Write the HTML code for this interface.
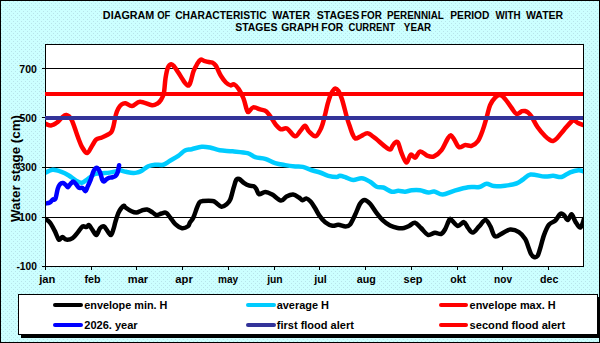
<!DOCTYPE html>
<html><head><meta charset="utf-8"><style>
html,body{margin:0;padding:0;width:600px;height:343px;overflow:hidden;background:#CCFFFF;}
svg{display:block;}
</style></head><body>
<svg width="600" height="343" viewBox="0 0 600 343">
<defs><pattern id="dots" x="0" y="0" width="4" height="4" patternUnits="userSpaceOnUse">
<rect width="4" height="4" fill="#CCFFFF"/><rect x="1" y="1" width="1" height="1" fill="#B8E4EA"/><rect x="3" y="3" width="1" height="1" fill="#B8E4EA"/></pattern></defs>
<rect x="0" y="0" width="600" height="343" fill="url(#dots)"/>
<rect x="0.5" y="0.5" width="599" height="342" fill="none" stroke="#000" stroke-width="1"/>
<g font-family="'Liberation Sans', sans-serif" font-weight="bold" fill="#000">
<text x="102.88" y="18.5" textLength="51.44" lengthAdjust="spacingAndGlyphs" font-size="10">DIAGRAM</text>
<text x="157.21" y="18.5" textLength="13.13" lengthAdjust="spacingAndGlyphs" font-size="10">OF</text>
<text x="175.18" y="18.5" textLength="91.50" lengthAdjust="spacingAndGlyphs" font-size="10">CHARACTERISTIC</text>
<text x="272.39" y="18.5" textLength="37.82" lengthAdjust="spacingAndGlyphs" font-size="10">WATER</text>
<text x="316.70" y="18.5" textLength="42.70" lengthAdjust="spacingAndGlyphs" font-size="10">STAGES</text>
<text x="360.94" y="18.5" textLength="20.86" lengthAdjust="spacingAndGlyphs" font-size="10">FOR</text>
<text x="386.94" y="18.5" textLength="56.96" lengthAdjust="spacingAndGlyphs" font-size="10">PERENNIAL</text>
<text x="450.32" y="18.5" textLength="39.11" lengthAdjust="spacingAndGlyphs" font-size="10">PERIOD</text>
<text x="495.59" y="18.5" textLength="25.07" lengthAdjust="spacingAndGlyphs" font-size="10">WITH</text>
<text x="525.99" y="18.5" textLength="37.22" lengthAdjust="spacingAndGlyphs" font-size="10">WATER</text>
<text x="235.31" y="30.5" textLength="42.09" lengthAdjust="spacingAndGlyphs" font-size="10">STAGES</text>
<text x="281.17" y="30.5" textLength="37.53" lengthAdjust="spacingAndGlyphs" font-size="10">GRAPH</text>
<text x="321.31" y="30.5" textLength="21.91" lengthAdjust="spacingAndGlyphs" font-size="10">FOR</text>
<text x="348.61" y="30.5" textLength="46.49" lengthAdjust="spacingAndGlyphs" font-size="10">CURRENT</text>
<text x="403.83" y="30.5" textLength="27.37" lengthAdjust="spacingAndGlyphs" font-size="10">YEAR</text>
</g>
<rect x="45.5" y="44.5" width="538" height="222" fill="#fff" stroke="#000" stroke-width="1"/>
<g stroke="#000" stroke-width="1" shape-rendering="crispEdges">
<line x1="45" y1="68.5" x2="583" y2="68.5"/>
<line x1="45" y1="117.5" x2="583" y2="117.5"/>
<line x1="45" y1="167.5" x2="583" y2="167.5"/>
<line x1="45" y1="217.5" x2="583" y2="217.5"/>
<line x1="42" y1="68.5" x2="45" y2="68.5"/>
<line x1="42" y1="117.5" x2="45" y2="117.5"/>
<line x1="42" y1="167.5" x2="45" y2="167.5"/>
<line x1="42" y1="217.5" x2="45" y2="217.5"/>
<line x1="42" y1="266.5" x2="45" y2="266.5"/>
<line x1="45.5" y1="266" x2="45.5" y2="270"/>
<line x1="91.5" y1="266" x2="91.5" y2="270"/>
<line x1="136.5" y1="266" x2="136.5" y2="270"/>
<line x1="182.5" y1="266" x2="182.5" y2="270"/>
<line x1="228.5" y1="266" x2="228.5" y2="270"/>
<line x1="274.5" y1="266" x2="274.5" y2="270"/>
<line x1="319.5" y1="266" x2="319.5" y2="270"/>
<line x1="365.5" y1="266" x2="365.5" y2="270"/>
<line x1="411.5" y1="266" x2="411.5" y2="270"/>
<line x1="457.5" y1="266" x2="457.5" y2="270"/>
<line x1="502.5" y1="266" x2="502.5" y2="270"/>
<line x1="548.5" y1="266" x2="548.5" y2="270"/>
</g>
<clipPath id="pc"><rect x="46" y="45" width="537" height="221"/></clipPath>
<g clip-path="url(#pc)">
<path d="M45.00,218.80 C45.83,219.43 48.33,220.50 50.00,222.60 C51.67,224.70 53.53,228.57 55.00,231.40 C56.47,234.23 57.55,238.65 58.80,239.60 C60.05,240.55 61.25,237.10 62.50,237.10 C63.75,237.10 64.62,239.43 66.30,239.60 C67.98,239.77 70.72,239.27 72.60,238.10 C74.48,236.93 75.93,234.55 77.60,232.60 C79.27,230.65 81.13,227.32 82.60,226.40 C84.07,225.48 85.35,227.32 86.40,227.10 C87.45,226.88 87.87,224.60 88.90,225.10 C89.93,225.60 91.35,228.43 92.60,230.10 C93.85,231.77 95.15,235.43 96.40,235.10 C97.65,234.77 98.85,229.55 100.10,228.10 C101.35,226.65 102.63,225.85 103.90,226.40 C105.17,226.95 106.52,229.97 107.70,231.40 C108.88,232.83 110.03,235.40 111.00,235.00 C111.97,234.60 112.77,231.18 113.50,229.00 C114.23,226.82 114.60,224.55 115.40,221.90 C116.20,219.25 117.37,215.33 118.30,213.10 C119.23,210.87 120.05,209.72 121.00,208.50 C121.95,207.28 123.25,205.97 124.00,205.80 C124.75,205.63 124.25,206.58 125.50,207.50 C126.75,208.42 129.67,210.45 131.50,211.30 C133.33,212.15 134.83,212.72 136.50,212.60 C138.17,212.48 139.75,211.12 141.50,210.60 C143.25,210.08 145.12,209.17 147.00,209.50 C148.88,209.83 151.22,211.67 152.80,212.60 C154.38,213.53 155.05,214.95 156.50,215.10 C157.95,215.25 159.92,213.88 161.50,213.50 C163.08,213.12 164.53,212.12 166.00,212.80 C167.47,213.48 168.75,215.70 170.30,217.60 C171.85,219.50 173.35,222.43 175.30,224.20 C177.25,225.97 179.88,227.87 182.00,228.20 C184.12,228.53 186.67,227.17 188.00,226.20 C189.33,225.23 189.08,223.90 190.00,222.40 C190.92,220.90 192.33,219.67 193.50,217.20 C194.67,214.73 195.98,210.08 197.00,207.60 C198.02,205.12 198.68,203.38 199.60,202.30 C200.52,201.22 200.32,201.32 202.50,201.10 C204.68,200.88 210.42,200.70 212.70,201.00 C214.98,201.30 214.73,201.95 216.20,202.90 C217.67,203.85 219.75,206.50 221.50,206.70 C223.25,206.90 225.25,205.27 226.70,204.10 C228.15,202.93 229.03,202.47 230.20,199.70 C231.37,196.93 232.68,190.82 233.70,187.50 C234.72,184.18 235.42,181.23 236.30,179.80 C237.18,178.37 237.68,178.35 239.00,178.90 C240.32,179.45 242.47,181.97 244.20,183.10 C245.93,184.23 247.80,185.17 249.40,185.70 C251.00,186.23 252.63,185.72 253.80,186.30 C254.97,186.88 255.52,187.87 256.40,189.20 C257.28,190.53 257.63,193.85 259.10,194.30 C260.57,194.75 263.02,191.87 265.20,191.90 C267.38,191.93 269.58,193.05 272.20,194.50 C274.82,195.95 278.52,200.27 280.90,200.60 C283.28,200.93 284.47,197.52 286.50,196.50 C288.53,195.48 291.02,194.33 293.10,194.50 C295.18,194.67 297.42,196.53 299.00,197.50 C300.58,198.47 301.40,200.15 302.60,200.30 C303.80,200.45 304.87,198.20 306.20,198.40 C307.53,198.60 309.13,199.90 310.60,201.50 C312.07,203.10 313.53,205.65 315.00,208.00 C316.47,210.35 317.70,213.23 319.40,215.60 C321.10,217.97 323.02,220.50 325.20,222.20 C327.38,223.90 330.32,225.38 332.50,225.80 C334.68,226.22 336.12,224.58 338.30,224.70 C340.48,224.82 343.65,226.52 345.60,226.50 C347.55,226.48 348.43,226.50 350.00,224.60 C351.57,222.70 353.33,218.57 355.00,215.10 C356.67,211.63 358.42,206.32 360.00,203.80 C361.58,201.28 362.82,200.00 364.50,200.00 C366.18,200.00 368.13,201.70 370.10,203.80 C372.07,205.90 374.22,209.88 376.30,212.60 C378.38,215.32 380.32,217.95 382.60,220.10 C384.88,222.25 387.50,224.18 390.00,225.50 C392.50,226.82 395.27,227.58 397.60,228.00 C399.93,228.42 402.10,228.33 404.00,228.00 C405.90,227.67 407.17,226.87 409.00,226.00 C410.83,225.13 413.00,222.47 415.00,222.80 C417.00,223.13 418.83,226.00 421.00,228.00 C423.17,230.00 425.67,234.00 428.00,234.80 C430.33,235.60 432.83,232.93 435.00,232.80 C437.17,232.67 439.33,234.55 441.00,234.00 C442.67,233.45 443.58,231.92 445.00,229.50 C446.42,227.08 448.33,221.00 449.50,219.50 C450.67,218.00 450.62,219.43 452.00,220.50 C453.38,221.57 455.80,225.63 457.80,225.90 C459.80,226.17 462.33,221.82 464.00,222.10 C465.67,222.38 466.33,225.85 467.80,227.60 C469.27,229.35 470.92,232.80 472.80,232.60 C474.68,232.40 477.00,228.48 479.10,226.40 C481.20,224.32 483.52,220.10 485.40,220.10 C487.28,220.10 488.80,223.68 490.40,226.40 C492.00,229.12 492.97,235.28 495.00,236.40 C497.03,237.52 500.07,234.23 502.60,233.10 C505.13,231.97 507.48,229.77 510.20,229.60 C512.92,229.43 516.40,230.55 518.90,232.10 C521.40,233.65 523.68,236.58 525.20,238.90 C526.72,241.22 527.03,243.48 528.00,246.00 C528.97,248.52 530.00,252.17 531.00,254.00 C532.00,255.83 532.92,256.67 534.00,257.00 C535.08,257.33 536.50,257.33 537.50,256.00 C538.50,254.67 538.92,252.48 540.00,249.00 C541.08,245.52 542.50,239.17 544.00,235.10 C545.50,231.03 547.12,227.02 549.00,224.60 C550.88,222.18 553.42,222.40 555.30,220.60 C557.18,218.80 558.85,214.72 560.30,213.80 C561.75,212.88 562.75,214.05 564.00,215.10 C565.25,216.15 566.53,220.23 567.80,220.10 C569.07,219.97 570.35,214.08 571.60,214.30 C572.85,214.52 573.85,219.18 575.30,221.40 C576.75,223.62 578.85,228.00 580.30,227.60 C581.75,227.20 583.38,220.43 584.00,219.00" fill="none" stroke="#000" stroke-width="4.5" stroke-linejoin="round" stroke-linecap="round"/>
<path d="M45.50,172.60 C46.70,172.12 50.03,169.83 52.70,169.70 C55.37,169.57 58.82,170.83 61.50,171.80 C64.18,172.77 66.37,174.03 68.80,175.50 C71.23,176.97 73.92,179.38 76.10,180.60 C78.28,181.82 79.97,183.05 81.90,182.80 C83.83,182.55 85.52,180.57 87.70,179.10 C89.88,177.63 92.57,174.97 95.00,174.00 C97.43,173.03 99.87,173.53 102.30,173.30 C104.73,173.07 107.17,172.97 109.60,172.60 C112.03,172.23 115.17,171.48 116.90,171.10 C118.63,170.72 118.48,170.18 120.00,170.30 C121.52,170.42 123.78,171.35 126.00,171.80 C128.22,172.25 131.30,172.92 133.30,173.00 C135.30,173.08 136.60,172.67 138.00,172.30 C139.40,171.93 139.98,171.80 141.70,170.80 C143.42,169.80 146.08,167.32 148.30,166.30 C150.52,165.28 152.50,164.97 155.00,164.70 C157.50,164.43 160.80,165.35 163.30,164.70 C165.80,164.05 167.50,162.28 170.00,160.80 C172.50,159.32 175.80,157.52 178.30,155.80 C180.80,154.08 182.77,151.60 185.00,150.50 C187.23,149.40 188.92,149.83 191.70,149.20 C194.48,148.57 198.65,146.98 201.70,146.70 C204.75,146.42 207.00,146.90 210.00,147.50 C213.00,148.10 215.93,149.67 219.70,150.30 C223.47,150.93 227.95,150.83 232.60,151.30 C237.25,151.77 243.83,152.13 247.60,153.10 C251.37,154.07 252.27,156.15 255.20,157.10 C258.13,158.05 261.87,157.80 265.20,158.80 C268.53,159.80 271.87,162.05 275.20,163.10 C278.53,164.15 281.85,164.55 285.20,165.10 C288.55,165.65 292.37,166.10 295.30,166.40 C298.23,166.70 299.88,166.22 302.80,166.90 C305.72,167.58 309.93,169.57 312.80,170.50 C315.67,171.43 317.42,171.62 320.00,172.50 C322.58,173.38 325.52,175.05 328.30,175.80 C331.08,176.55 334.75,177.00 336.70,177.00 C338.65,177.00 338.45,175.72 340.00,175.80 C341.55,175.88 343.78,176.80 346.00,177.50 C348.22,178.20 350.68,179.87 353.30,180.00 C355.92,180.13 358.92,178.02 361.70,178.30 C364.48,178.58 367.50,180.30 370.00,181.70 C372.50,183.10 374.48,185.73 376.70,186.70 C378.92,187.67 380.80,186.67 383.30,187.50 C385.80,188.33 389.20,191.15 391.70,191.70 C394.20,192.25 396.08,190.80 398.30,190.80 C400.52,190.80 402.77,191.78 405.00,191.70 C407.23,191.62 409.20,190.53 411.70,190.30 C414.20,190.07 417.20,189.92 420.00,190.30 C422.80,190.68 426.13,192.40 428.50,192.60 C430.87,192.80 431.83,191.17 434.20,191.50 C436.57,191.83 439.40,194.72 442.70,194.60 C446.00,194.48 449.75,192.03 454.00,190.80 C458.25,189.57 463.95,187.83 468.20,187.20 C472.45,186.57 476.43,187.57 479.50,187.00 C482.57,186.43 484.23,183.95 486.60,183.80 C488.97,183.65 490.63,185.78 493.70,186.10 C496.77,186.42 501.23,186.13 505.00,185.70 C508.77,185.27 513.30,184.53 516.30,183.50 C519.30,182.47 520.63,181.00 523.00,179.50 C525.37,178.00 526.90,174.98 530.50,174.50 C534.10,174.02 540.83,176.38 544.60,176.60 C548.37,176.82 550.27,175.73 553.10,175.80 C555.93,175.87 558.77,177.58 561.60,177.00 C564.43,176.42 567.27,173.43 570.10,172.30 C572.93,171.17 576.45,170.37 578.60,170.20 C580.75,170.03 582.27,171.12 583.00,171.30" fill="none" stroke="#00CCFF" stroke-width="4.5" stroke-linejoin="round" stroke-linecap="round"/>
<path d="M45.00,123.50 C46.00,123.83 49.00,125.67 51.00,125.50 C53.00,125.33 55.17,123.83 57.00,122.50 C58.83,121.17 60.45,118.75 62.00,117.50 C63.55,116.25 64.72,114.65 66.30,115.00 C67.88,115.35 69.83,116.68 71.50,119.60 C73.17,122.52 75.05,129.10 76.30,132.50 C77.55,135.90 78.05,137.58 79.00,140.00 C79.95,142.42 80.65,144.83 82.00,147.00 C83.35,149.17 85.37,153.30 87.10,153.00 C88.83,152.70 90.88,147.45 92.40,145.20 C93.92,142.95 94.62,140.78 96.20,139.50 C97.78,138.22 100.00,138.28 101.90,137.50 C103.80,136.72 106.02,135.72 107.60,134.80 C109.18,133.88 110.42,133.47 111.40,132.00 C112.38,130.53 112.77,128.83 113.50,126.00 C114.23,123.17 115.00,117.92 115.80,115.00 C116.60,112.08 117.35,110.25 118.30,108.50 C119.25,106.75 120.30,105.37 121.50,104.50 C122.70,103.63 123.75,103.05 125.50,103.30 C127.25,103.55 129.58,106.25 132.00,106.00 C134.42,105.75 136.67,101.93 140.00,101.80 C143.33,101.67 149.08,104.92 152.00,105.20 C154.92,105.48 156.08,104.28 157.50,103.50 C158.92,102.72 159.45,102.17 160.50,100.50 C161.55,98.83 162.97,97.20 163.80,93.50 C164.63,89.80 164.83,82.58 165.50,78.30 C166.17,74.02 166.83,70.13 167.80,67.80 C168.77,65.47 170.22,64.48 171.30,64.30 C172.38,64.12 173.13,65.33 174.30,66.70 C175.47,68.07 176.65,69.98 178.30,72.50 C179.95,75.02 182.53,79.62 184.20,81.80 C185.87,83.98 187.23,85.60 188.30,85.60 C189.37,85.60 189.73,84.18 190.60,81.80 C191.47,79.42 192.43,74.22 193.50,71.30 C194.57,68.38 195.83,66.23 197.00,64.30 C198.17,62.37 199.33,60.28 200.50,59.70 C201.67,59.12 202.63,60.42 204.00,60.80 C205.37,61.18 207.33,61.70 208.70,62.00 C210.07,62.30 211.03,62.02 212.20,62.60 C213.37,63.18 214.77,64.33 215.70,65.50 C216.63,66.67 216.92,67.85 217.80,69.60 C218.68,71.35 219.65,73.85 221.00,76.00 C222.35,78.15 224.28,80.93 225.90,82.50 C227.52,84.07 229.37,85.10 230.70,85.40 C232.03,85.70 232.57,83.70 233.90,84.30 C235.23,84.90 237.10,86.63 238.70,89.00 C240.30,91.37 242.17,95.08 243.50,98.50 C244.83,101.92 245.87,107.25 246.70,109.50 C247.53,111.75 247.42,112.35 248.50,112.00 C249.58,111.65 251.25,107.83 253.20,107.40 C255.15,106.97 258.00,108.73 260.20,109.40 C262.40,110.07 264.43,109.80 266.40,111.40 C268.37,113.00 270.40,116.73 272.00,119.00 C273.60,121.27 274.50,123.28 276.00,125.00 C277.50,126.72 279.17,128.72 281.00,129.30 C282.83,129.88 284.67,127.33 287.00,128.50 C289.33,129.67 292.78,135.88 295.00,136.30 C297.22,136.72 298.63,132.75 300.30,131.00 C301.97,129.25 303.55,125.72 305.00,125.80 C306.45,125.88 307.25,129.75 309.00,131.50 C310.75,133.25 313.67,136.47 315.50,136.30 C317.33,136.13 318.80,132.60 320.00,130.50 C321.20,128.40 321.78,126.62 322.70,123.70 C323.62,120.78 324.62,116.50 325.50,113.00 C326.38,109.50 327.08,105.87 328.00,102.70 C328.92,99.53 329.83,96.37 331.00,94.00 C332.17,91.63 333.75,89.00 335.00,88.50 C336.25,88.00 337.33,89.22 338.50,91.00 C339.67,92.78 340.55,94.62 342.00,99.20 C343.45,103.78 345.87,113.87 347.20,118.50 C348.53,123.13 349.12,124.42 350.00,127.00 C350.88,129.58 351.62,132.08 352.50,134.00 C353.38,135.92 353.98,138.08 355.30,138.50 C356.62,138.92 358.78,137.25 360.40,136.50 C362.02,135.75 363.63,134.50 365.00,134.00 C366.37,133.50 366.82,132.73 368.60,133.50 C370.38,134.27 373.15,136.58 375.70,138.60 C378.25,140.62 381.52,143.77 383.90,145.60 C386.28,147.43 388.57,149.53 390.00,149.60 C391.43,149.67 391.65,147.17 392.50,146.00 C393.35,144.83 394.17,143.17 395.10,142.60 C396.03,142.03 397.05,140.93 398.10,142.60 C399.15,144.27 400.02,149.27 401.40,152.60 C402.78,155.93 404.85,162.27 406.40,162.60 C407.95,162.93 409.23,155.43 410.70,154.60 C412.17,153.77 413.62,158.13 415.20,157.60 C416.78,157.07 418.12,151.68 420.20,151.40 C422.28,151.12 425.40,155.07 427.70,155.90 C430.00,156.73 431.70,157.37 434.00,156.40 C436.30,155.43 439.25,153.00 441.50,150.10 C443.75,147.20 445.95,141.48 447.50,139.00 C449.05,136.52 449.63,135.03 450.80,135.20 C451.97,135.37 453.13,138.02 454.50,140.00 C455.87,141.98 457.20,146.25 459.00,147.10 C460.80,147.95 463.20,145.32 465.30,145.10 C467.40,144.88 469.52,146.43 471.60,145.80 C473.68,145.17 475.93,143.93 477.80,141.30 C479.67,138.67 481.33,133.97 482.80,130.00 C484.27,126.03 485.38,121.65 486.60,117.50 C487.82,113.35 488.68,108.42 490.10,105.10 C491.52,101.78 493.43,99.27 495.10,97.60 C496.77,95.93 498.43,94.88 500.10,95.10 C501.77,95.32 503.22,96.82 505.10,98.90 C506.98,100.98 509.52,105.10 511.40,107.60 C513.28,110.10 514.63,113.30 516.40,113.90 C518.17,114.50 520.57,111.68 522.00,111.20 C523.43,110.72 524.00,110.78 525.00,111.00 C526.00,111.22 526.92,111.58 528.00,112.50 C529.08,113.42 529.92,114.08 531.50,116.50 C533.08,118.92 535.25,123.75 537.50,127.00 C539.75,130.25 542.92,133.83 545.00,136.00 C547.08,138.17 548.67,139.17 550.00,140.00 C551.33,140.83 551.83,141.30 553.00,141.00 C554.17,140.70 555.08,140.17 557.00,138.20 C558.92,136.23 562.00,132.07 564.50,129.20 C567.00,126.33 570.33,122.45 572.00,121.00 C573.67,119.55 573.50,120.17 574.50,120.50 C575.50,120.83 576.58,122.25 578.00,123.00 C579.42,123.75 582.17,124.67 583.00,125.00" fill="none" stroke="#FF0000" stroke-width="4.5" stroke-linejoin="round" stroke-linecap="round"/>
<path d="M45.50,203.50 C46.22,203.33 48.60,203.17 49.80,202.50 C51.00,201.83 51.77,200.12 52.70,199.50 C53.63,198.88 54.55,200.62 55.40,198.80 C56.25,196.98 57.03,191.03 57.80,188.60 C58.57,186.17 59.15,185.12 60.00,184.20 C60.85,183.28 61.92,182.97 62.90,183.10 C63.88,183.23 65.05,184.32 65.90,185.00 C66.75,185.68 67.28,187.33 68.00,187.20 C68.72,187.07 69.33,185.13 70.20,184.20 C71.07,183.27 72.22,181.60 73.20,181.60 C74.18,181.60 75.13,183.15 76.10,184.20 C77.07,185.25 77.92,187.28 79.00,187.90 C80.08,188.52 81.52,187.35 82.60,187.90 C83.68,188.45 84.65,191.45 85.50,191.20 C86.35,190.95 86.85,188.28 87.70,186.40 C88.55,184.52 89.62,182.45 90.60,179.90 C91.58,177.35 92.50,173.10 93.60,171.10 C94.70,169.10 96.12,167.65 97.20,167.90 C98.28,168.15 99.25,170.60 100.10,172.60 C100.95,174.60 101.68,178.40 102.30,179.90 C102.92,181.40 103.07,181.73 103.80,181.60 C104.53,181.47 105.73,179.75 106.70,179.10 C107.67,178.45 108.63,178.02 109.60,177.70 C110.57,177.38 111.53,177.45 112.50,177.20 C113.47,176.95 114.55,176.97 115.40,176.20 C116.25,175.43 116.98,174.42 117.60,172.60 C118.22,170.78 118.85,166.52 119.10,165.30" fill="none" stroke="#0000FF" stroke-width="4.5" stroke-linejoin="round" stroke-linecap="round"/>
</g>
<line x1="45" y1="118" x2="583" y2="118" stroke="#333399" stroke-width="4"/>
<line x1="45" y1="94" x2="583" y2="94" stroke="#FF0000" stroke-width="4"/>
<g font-family="'Liberation Sans', sans-serif" font-weight="bold" fill="#000">
<text x="19.35" y="72.5" textLength="17.48" lengthAdjust="spacingAndGlyphs" font-size="10">700</text>
<text x="19.48" y="122" textLength="17.35" lengthAdjust="spacingAndGlyphs" font-size="10">500</text>
<text x="19.56" y="171" textLength="17.26" lengthAdjust="spacingAndGlyphs" font-size="10">300</text>
<text x="19.13" y="220.5" textLength="17.70" lengthAdjust="spacingAndGlyphs" font-size="10">100</text>
<text x="16.40" y="269.5" textLength="20.42" lengthAdjust="spacingAndGlyphs" font-size="10">-100</text>
<text x="39.17" y="282.5" textLength="16.12" lengthAdjust="spacingAndGlyphs" font-size="10">jan</text>
<text x="84.42" y="282.5" textLength="16.02" lengthAdjust="spacingAndGlyphs" font-size="10">feb</text>
<text x="127.87" y="282.5" textLength="20.30" lengthAdjust="spacingAndGlyphs" font-size="10">mar</text>
<text x="175.27" y="282.5" textLength="17.50" lengthAdjust="spacingAndGlyphs" font-size="10">apr</text>
<text x="217.94" y="282.5" textLength="20.12" lengthAdjust="spacingAndGlyphs" font-size="10">may</text>
<text x="267.16" y="282.5" textLength="15.48" lengthAdjust="spacingAndGlyphs" font-size="10">jun</text>
<text x="314.17" y="282.5" textLength="12.60" lengthAdjust="spacingAndGlyphs" font-size="10">jul</text>
<text x="356.69" y="282.5" textLength="19.03" lengthAdjust="spacingAndGlyphs" font-size="10">aug</text>
<text x="403.62" y="282.5" textLength="18.83" lengthAdjust="spacingAndGlyphs" font-size="10">sep</text>
<text x="450.18" y="282.5" textLength="15.94" lengthAdjust="spacingAndGlyphs" font-size="10">okt</text>
<text x="494.14" y="282.5" textLength="17.91" lengthAdjust="spacingAndGlyphs" font-size="10">nov</text>
<text x="539.96" y="282.5" textLength="18.35" lengthAdjust="spacingAndGlyphs" font-size="10">dec</text>
<text transform="translate(20.3,0) rotate(-90)" x="-222.01" y="0" textLength="107.07" lengthAdjust="spacingAndGlyphs" font-size="13">Water stage (cm)</text>
</g>
<rect x="21" y="297" width="579" height="41" fill="#000"/>
<rect x="18.5" y="294.5" width="579" height="40" fill="#fff" stroke="#000" stroke-width="1"/>
<g font-family="'Liberation Sans', sans-serif" font-weight="bold" fill="#000">
<line x1="55" y1="305" x2="81" y2="305" stroke="#000" stroke-width="4" stroke-linecap="round"/>
<text x="84.28" y="308.5" textLength="83.15" lengthAdjust="spacingAndGlyphs" font-size="11">envelope min. H</text>
<line x1="248" y1="305" x2="274" y2="305" stroke="#00CCFF" stroke-width="4" stroke-linecap="round"/>
<text x="276.68" y="308.5" textLength="52.31" lengthAdjust="spacingAndGlyphs" font-size="11">average H</text>
<line x1="441" y1="305" x2="466" y2="305" stroke="#FF0000" stroke-width="4" stroke-linecap="round"/>
<text x="469.57" y="308.5" textLength="86.16" lengthAdjust="spacingAndGlyphs" font-size="11">envelope max. H</text>
<line x1="55" y1="325" x2="81" y2="325" stroke="#0000FF" stroke-width="4" stroke-linecap="round"/>
<text x="84.32" y="328.5" textLength="53.35" lengthAdjust="spacingAndGlyphs" font-size="11">2026. year</text>
<line x1="248" y1="325" x2="274" y2="325" stroke="#333399" stroke-width="4" stroke-linecap="round"/>
<text x="276.81" y="328.5" textLength="77.07" lengthAdjust="spacingAndGlyphs" font-size="11">first flood alert</text>
<line x1="441" y1="325" x2="466" y2="325" stroke="#FF0000" stroke-width="4" stroke-linecap="round"/>
<text x="469.61" y="328.5" textLength="95.53" lengthAdjust="spacingAndGlyphs" font-size="11">second flood alert</text>
</g>
</svg>
</body></html>
